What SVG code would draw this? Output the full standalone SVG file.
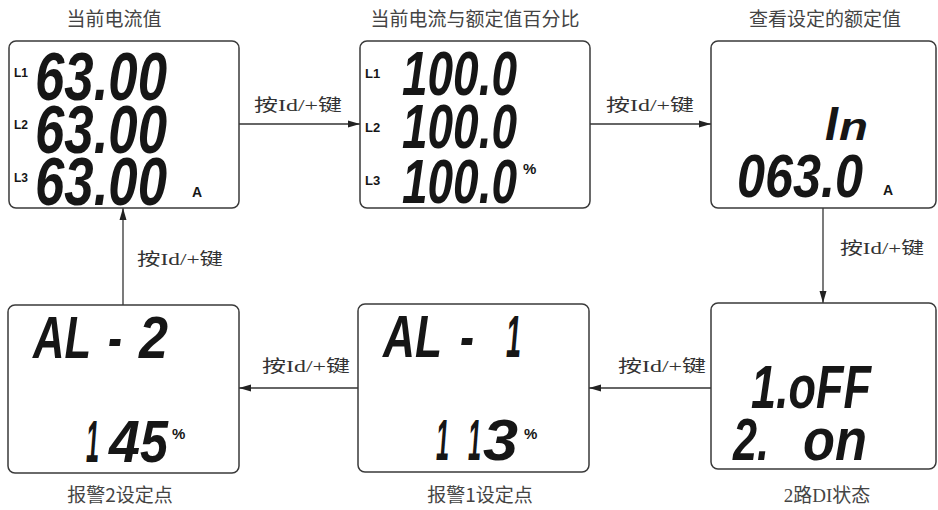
<svg xmlns="http://www.w3.org/2000/svg" width="938" height="510" viewBox="0 0 938 510">
<style>
.box{fill:#fff;stroke:#3a3a3a;stroke-width:1.5}
.title{font-family:"Noto Sans CJK SC",sans-serif;font-size:19px;fill:#444;text-anchor:middle}
.lbl{font-family:"Liberation Serif","Noto Sans CJK SC",serif;font-size:17px;fill:#333}
.lcd{font-family:"Liberation Sans",Arial,sans-serif;font-weight:bold;font-style:italic;fill:#161616}
.sm{font-family:"Liberation Sans",Arial,sans-serif;font-weight:bold;fill:#161616}
.conn{stroke:#333;stroke-width:1.3;fill:none;marker-end:url(#ah)}
</style>
<defs>
<marker id="ah" markerUnits="userSpaceOnUse" markerWidth="12" markerHeight="8" refX="12" refY="4" orient="auto">
<path d="M0,0.5 L12,4 L0,7.5 Z" fill="#222"/>
</marker>
</defs>
<rect width="938" height="510" fill="#fff"/>
<g id="connectors">
<path class="conn" d="M239 124 H360"/>
<path class="conn" d="M590 124 H711"/>
<path class="conn" d="M823 208 V303"/>
<path class="conn" d="M711 388 H589"/>
<path class="conn" d="M358 388 H239"/>
<path class="conn" d="M123 305 V208"/>
<text class="lbl" x="254" y="111" textLength="88" lengthAdjust="spacingAndGlyphs">按Id/+键</text>
<text class="lbl" x="606" y="111" textLength="88" lengthAdjust="spacingAndGlyphs">按Id/+键</text>
<text class="lbl" x="840" y="254" textLength="84" lengthAdjust="spacingAndGlyphs">按Id/+键</text>
<text class="lbl" x="618" y="372" textLength="88" lengthAdjust="spacingAndGlyphs">按Id/+键</text>
<text class="lbl" x="262" y="372" textLength="88" lengthAdjust="spacingAndGlyphs">按Id/+键</text>
<text class="lbl" x="137" y="265" textLength="86" lengthAdjust="spacingAndGlyphs">按Id/+键</text>
</g>
<g id="node-current">
<text class="title" x="114" y="26">当前电流值</text>
<rect class="box" x="9" y="41" width="230" height="167" rx="7"/>
<text class="sm" x="14" y="77" font-size="12">L1</text>
<text class="sm" x="14" y="129" font-size="12">L2</text>
<text class="sm" x="14" y="182" font-size="12">L3</text>
<text class="lcd" x="35" y="100" font-size="68" textLength="132" lengthAdjust="spacingAndGlyphs">63.00</text>
<text class="lcd" x="35" y="153" font-size="68" textLength="132" lengthAdjust="spacingAndGlyphs">63.00</text>
<text class="lcd" x="35" y="205" font-size="68" textLength="132" lengthAdjust="spacingAndGlyphs">63.00</text>
<text class="sm" x="192" y="197" font-size="14">A</text>
</g>
<g id="node-percent">
<text class="title" x="475" y="26">当前电流与额定值百分比</text>
<rect class="box" x="360" y="41" width="230" height="167" rx="7"/>
<text class="sm" x="365" y="78" font-size="13">L1</text>
<text class="sm" x="365" y="132" font-size="13">L2</text>
<text class="sm" x="365" y="185" font-size="13">L3</text>
<text class="lcd" x="402" y="95" font-size="63" textLength="115" lengthAdjust="spacingAndGlyphs">100.0</text>
<text class="lcd" x="402" y="148" font-size="63" textLength="115" lengthAdjust="spacingAndGlyphs">100.0</text>
<text class="lcd" x="402" y="203" font-size="63" textLength="115" lengthAdjust="spacingAndGlyphs">100.0</text>
<text class="sm" x="523" y="174" font-size="15">%</text>
</g>
<g id="node-rated">
<text class="title" x="825" y="26">查看设定的额定值</text>
<rect class="box" x="711" y="41" width="225" height="167" rx="7"/>
<text class="lcd" x="825" y="140" font-size="49" textLength="13" lengthAdjust="spacingAndGlyphs">I</text>
<text class="lcd" x="839" y="140" font-size="38" textLength="29" lengthAdjust="spacingAndGlyphs">n</text>
<text class="lcd" x="737" y="197" font-size="62" textLength="126" lengthAdjust="spacingAndGlyphs">063.0</text>
<text class="sm" x="883" y="195" font-size="14">A</text>
</g>
<g id="node-di">
<text class="title" x="827" y="502" style="font-family:'Liberation Serif','Noto Sans CJK SC',serif">2路DI状态</text>
<rect class="box" x="711" y="303" width="225" height="166" rx="7"/>
<text class="lcd" x="751" y="408" font-size="62" textLength="120" lengthAdjust="spacingAndGlyphs">1.oFF</text>
<text class="lcd" x="733" y="460" font-size="60" textLength="36" lengthAdjust="spacingAndGlyphs">2.</text>
<text class="lcd" x="803" y="460" font-size="60" textLength="64" lengthAdjust="spacingAndGlyphs">on</text>
</g>
<g id="node-al1">
<text class="title" x="480" y="502">报警1设定点</text>
<rect class="box" x="358" y="304" width="231" height="168" rx="7"/>
<text class="lcd" x="383" y="357" font-size="60" textLength="59" lengthAdjust="spacingAndGlyphs">AL</text>
<text class="lcd" x="460" y="357" font-size="60" textLength="14" lengthAdjust="spacingAndGlyphs">-</text>
<text class="lcd" x="506" y="357" font-size="60" textLength="15" lengthAdjust="spacingAndGlyphs">1</text>
<text class="lcd" x="436" y="460" font-size="58" textLength="13" lengthAdjust="spacingAndGlyphs">1</text>
<text class="lcd" x="468" y="460" font-size="58" textLength="13" lengthAdjust="spacingAndGlyphs">1</text>
<text class="lcd" x="483" y="460" font-size="58" textLength="35" lengthAdjust="spacingAndGlyphs">3</text>
<text class="sm" x="524" y="439" font-size="15">%</text>
</g>
<g id="node-al2">
<text class="title" x="120" y="502">报警2设定点</text>
<rect class="box" x="8" y="305" width="231" height="168" rx="7"/>
<text class="lcd" x="33" y="358" font-size="60" textLength="58" lengthAdjust="spacingAndGlyphs">AL</text>
<text class="lcd" x="108" y="358" font-size="60" textLength="14" lengthAdjust="spacingAndGlyphs">-</text>
<text class="lcd" x="139" y="358" font-size="60" textLength="29" lengthAdjust="spacingAndGlyphs">2</text>
<text class="lcd" x="86" y="462" font-size="60" textLength="13" lengthAdjust="spacingAndGlyphs">1</text>
<text class="lcd" x="109" y="462" font-size="60" textLength="31" lengthAdjust="spacingAndGlyphs">4</text>
<text class="lcd" x="140" y="462" font-size="60" textLength="28" lengthAdjust="spacingAndGlyphs">5</text>
<text class="sm" x="172" y="439" font-size="15">%</text>
</g>
</svg>
